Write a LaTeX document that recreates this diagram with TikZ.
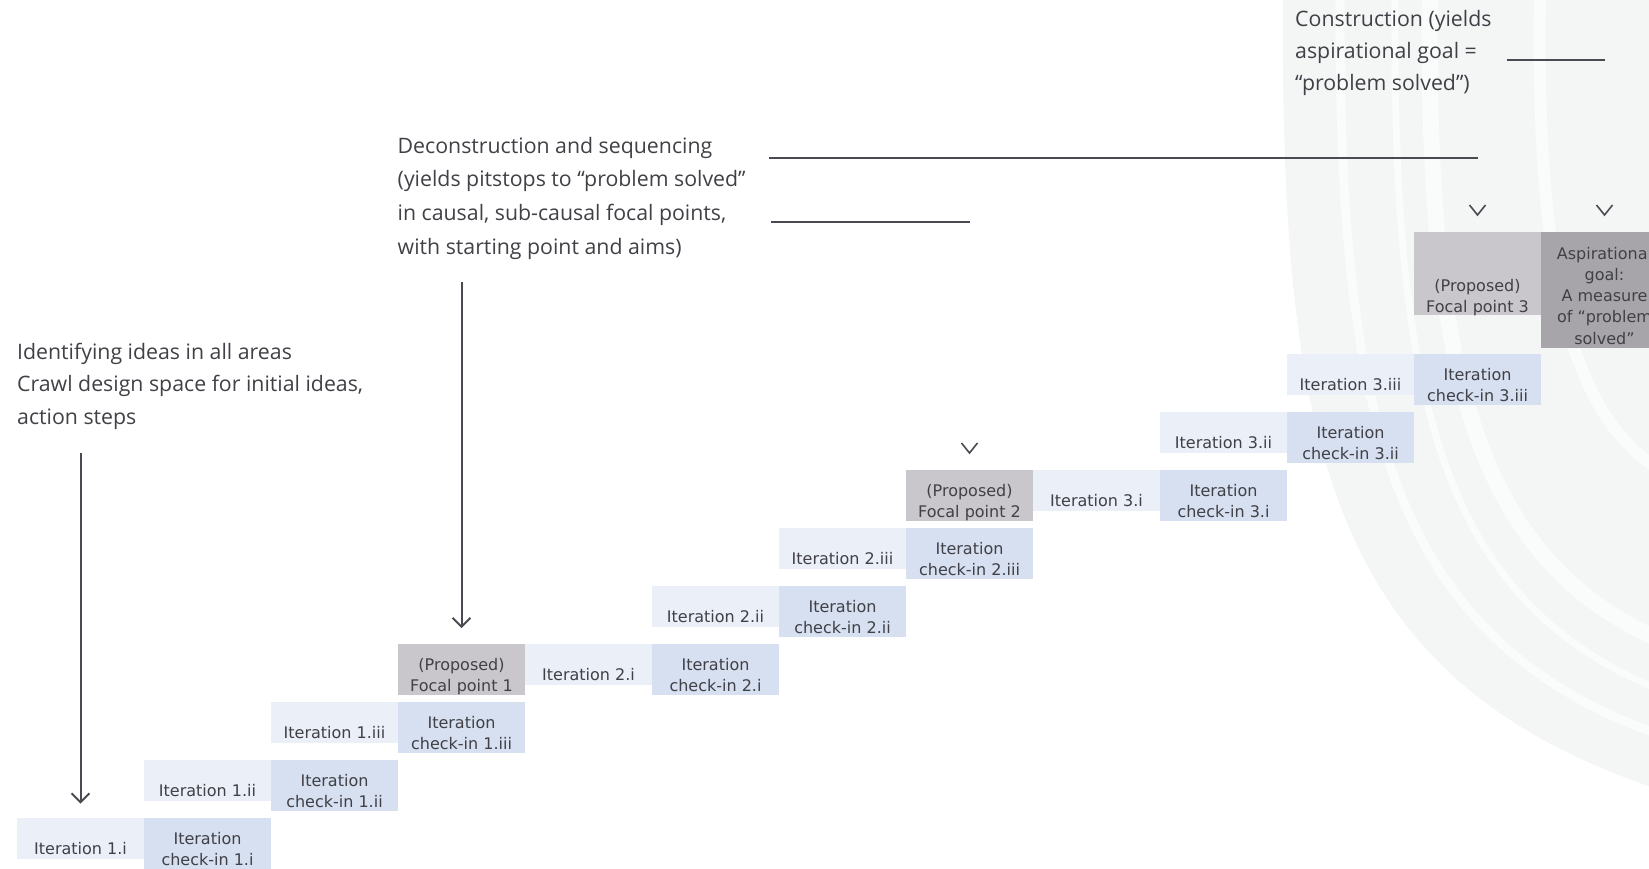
\documentclass[tikz,border=0pt]{standalone}
\usepackage{fontspec}
\setmainfont{DejaVu Sans}
\newfontfamily\headfont{Open Sans}
\usetikzlibrary{arrows.meta,calc}

\definecolor{iterfill}{HTML}{EAEFF8}
\definecolor{checkfill}{HTML}{D6E0F1}
\definecolor{focalfill}{HTML}{C9C7CB}
\definecolor{goalfill}{HTML}{A7A5AA}
\definecolor{inktext}{HTML}{404046}
\definecolor{inkline}{HTML}{4A4A52}
\definecolor{swirl}{HTML}{F4F6F5}
\definecolor{streak}{HTML}{FAFBFB}

\tikzset{
  cellbox/.style={anchor=north west, minimum width=127pt, inner sep=0pt, outer sep=0pt,
    align=center, text=inktext, font=\fontsize{16}{21}\selectfont},
  iterbox/.style={cellbox, fill=iterfill, minimum height=41pt,
    execute at begin node={\rule{0pt}{32.5pt}}},
  checkbox/.style={cellbox, fill=checkfill, minimum height=51.5pt,
    execute at begin node={\rule{0pt}{44pt}}},
  focalbox/.style={cellbox, fill=focalfill, minimum height=51.5pt,
    execute at begin node={\rule{0pt}{47pt}}},
  goalbox/.style={cellbox, fill=goalfill, minimum height=116.3pt,
    font=\fontsize{16}{21.3}\selectfont, execute at begin node={\rule{0pt}{109pt}}},
  heading/.style={anchor=base west, inner sep=0pt, align=left, text=inktext},
  leader/.style={draw=inkline, line width=1.4pt},
  longarrow/.style={draw=inkline, line width=2pt,
    -{Straight Barb[length=9pt,width=18pt,line width=2pt]}},
  chevron/.style={draw=inkline, line width=1.6pt},
}

\begin{document}
\begin{tikzpicture}[x=1pt,y=-1pt]
\useasboundingbox (0,0) rectangle (1649,868);
\begin{scope}
\clip (0,0) rectangle (1649,868);

% faint brushed crescent behind the right-hand side
\fill[swirl] (1283,-5) .. controls (1280,450) and (1330,680) .. (1660,790) -- (1660,-5) -- cycle;
\draw[streak, line width=9pt]  (1340,-5) .. controls (1338,430) and (1395,640) .. (1660,735);
\draw[streak, line width=16pt] (1430,-5) .. controls (1425,380) and (1480,560) .. (1660,640);
\draw[streak, line width=7pt]  (1395,-5) .. controls (1392,400) and (1440,600) .. (1660,690);
\draw[streak, line width=12pt] (1540,-5) .. controls (1535,300) and (1580,420) .. (1660,470);

% staircase: focal point 1 block
\node[iterbox]  (it1i)   at (17,817.7)  {Iteration 1.i};
\node[checkbox] (ck1i)   at (144,817.7) {Iteration\\check-in 1.i};
\node[iterbox]  (it1ii)  at (144,759.7) {Iteration 1.ii};
\node[checkbox] (ck1ii)  at (271,759.7) {Iteration\\check-in 1.ii};
\node[iterbox]  (it1iii) at (271,701.7) {Iteration 1.iii};
\node[checkbox] (ck1iii) at (398,701.7) {Iteration\\check-in 1.iii};
\node[focalbox] (fp1)    at (398,643.7) {(Proposed)\\Focal point 1};

% focal point 2 block
\node[iterbox]  (it2i)   at (525,643.7) {Iteration 2.i};
\node[checkbox] (ck2i)   at (652,643.7) {Iteration\\check-in 2.i};
\node[iterbox]  (it2ii)  at (652,585.7) {Iteration 2.ii};
\node[checkbox] (ck2ii)  at (779,585.7) {Iteration\\check-in 2.ii};
\node[iterbox]  (it2iii) at (779,527.7) {Iteration 2.iii};
\node[checkbox] (ck2iii) at (906,527.7) {Iteration\\check-in 2.iii};
\node[focalbox] (fp2)    at (906,469.7) {(Proposed)\\Focal point 2};

% focal point 3 block and goal
\node[iterbox]  (it3i)   at (1033,469.7) {Iteration 3.i};
\node[checkbox] (ck3i)   at (1160,469.7) {Iteration\\check-in 3.i};
\node[iterbox]  (it3ii)  at (1160,411.7) {Iteration 3.ii};
\node[checkbox] (ck3ii)  at (1287,411.7) {Iteration\\check-in 3.ii};
\node[iterbox]  (it3iii) at (1287,353.7) {Iteration 3.iii};
\node[checkbox] (ck3iii) at (1414,353.7) {Iteration\\check-in 3.iii};
\node[cellbox, fill=focalfill, minimum height=83.3pt] (fp3) at (1414,231.7) {};
\node[goalbox]  (goal)   at (1541,231.7) {Aspirational\\goal:\\A measure\\of “problem\\solved”};
\node[cellbox, anchor=center] (fp3text) at (fp3.north |- 0,298) {(Proposed)\\Focal point 3};

% headings (anchored at the baseline of their last line)
\node[heading, font=\headfont\fontsize{21.3}{32.6}\selectfont] (ident) at (17,424.5)
  {Identifying ideas in all areas\\Crawl design space for initial ideas,\\action steps};
\node[heading, font=\headfont\fontsize{21.3}{33.6}\selectfont] (decon) at (397.5,254)
  {Deconstruction and sequencing\\(yields pitstops to “problem solved”\\in causal, sub-causal focal points,\\with starting point and aims)};
\node[heading, font=\headfont\fontsize{21.3}{32}\selectfont] (constr) at (1295,90)
  {Construction (yields\\aspirational goal =\\“problem solved”)};

% leader lines
\coordinate (consL) at (1507,60);
\draw[leader] (consL) -- (consL -| goal.north);
\coordinate (decL1) at (769,158);
\draw[leader] (decL1) -- (decL1 -| fp3.north);
\coordinate (decL2) at (771,222);
\draw[leader] (decL2) -- (decL2 -| fp2.north);

% chevrons over the focal points and the goal
\foreach \n in {fp2,fp3,goal}
  \draw[chevron] ([shift={(-8pt,26.7pt)}]\n.north) -- ([yshift=16.7pt]\n.north) -- ([shift={(8pt,26.7pt)}]\n.north);

% long arrows
\coordinate (arrA) at (80.5,452.7);
\draw[longarrow] (arrA) -- ([yshift=14pt]it1i.north);
\coordinate (arrB) at (461.5,282);
\draw[longarrow] (arrB) -- ([yshift=15.5pt]fp1.north);
\end{scope}
\end{tikzpicture}
\end{document}
